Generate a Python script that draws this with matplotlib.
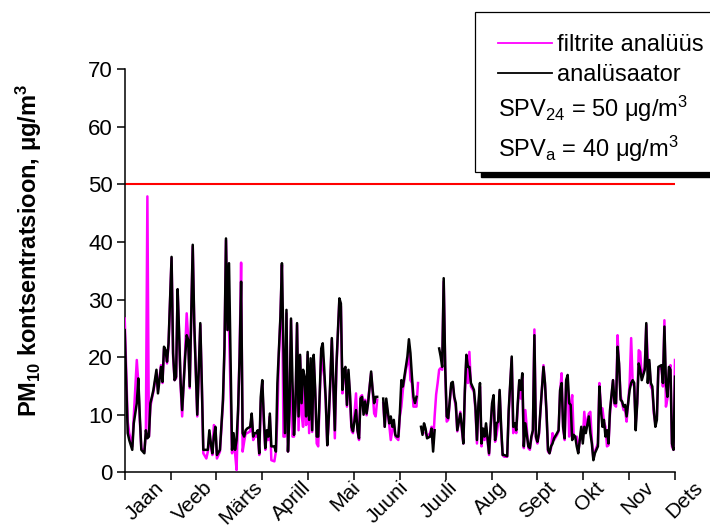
import numpy as np
import matplotlib
matplotlib.use("Agg")
import matplotlib.pyplot as plt
from matplotlib.patches import Rectangle
from matplotlib.lines import Line2D

plt.rcParams['font.family'] = ['Liberation Sans', 'DejaVu Sans']
plt.rcParams['mathtext.fontset'] = 'custom'
plt.rcParams['mathtext.rm'] = 'Liberation Sans'
plt.rcParams['mathtext.it'] = 'Liberation Sans:italic'
plt.rcParams['mathtext.bf'] = 'Liberation Sans:bold'
plt.rcParams['mathtext.default'] = 'regular'

nan = np.nan

# Day of year for each measurement
days = [
    1, 3, 4, 6, 7, 9, 10, 11, 12, 14, 15, 16, 17, 18, 19, 20, 22, 23, 25, 26,
    27, 28, 29, 30, 32, 33, 34, 35, 36, 37, 38, 39, 41, 42, 43, 44, 46, 47, 49, 51,
    52, 53, 55, 56, 57, 58, 59, 60, 61, 62, 64, 66, 67, 68, 69, 70, 72, 73,
    74, 75, 76, 77, 78, 79, 80, 81, 82,
    84, 85, 86, 87, 88, 89, 90, 91, 92, 93, 94, 95, 96, 97, 98,
    100, 101, 102, 103, 104, 105, 106, 107, 108, 109, 110, 111, 112, 113, 114, 115,
    116, 117, 118, 119, 120, 121, 122, 123, 124, 125, 126, 127, 128, 129,
    131, 132, 133, 134, 135, 136, 137, 138, 139, 140, 141, 143, 144, 145, 146,
    147, 148, 149, 150, 151, 152, 154, 155, 156, 157, 158, 159, 160, 161, 162,
    164, 165, 166, 167, 168, 169, 170, 172, 173, 174,
    176, 177, 178, 179, 180, 181, 182, 183, 184, 185,
    187, 188, 189, 190, 191, 192, 193, 194, 195, 196, 197, 198, 199, 200, 201,
    203, 204, 205, 206, 207, 208, 209, 210, 211, 212, 213, 214, 215,
    217, 218, 219, 220, 221,
    223, 224, 225, 226, 227, 228, 229, 230, 232, 233, 234, 235, 236, 237, 238, 239, 240,
    242, 243, 244, 245, 246, 247, 248, 249, 250, 251, 252,
    254, 255, 256, 257, 258, 259, 260, 261, 262, 263, 264, 265, 266,
    268, 269, 270, 271, 272, 273, 274, 275, 276,
    278, 279, 280, 281, 282, 283, 284, 285,
    287, 288, 289, 290, 291, 292, 293, 294, 295,
    296, 297, 298, 299, 300, 301, 303, 304, 305, 306, 307, 308, 309, 310, 311, 312,
    314, 315, 316, 317, 318, 319, 320, 321, 322,
    324, 325, 326, 327, 328, 329, 330, 331, 332, 333,
    335, 336, 337, 338, 339, 340, 341, 342, 343,
    345, 346, 347, 348, 349, 350, 351, 352, 353, 354,
    356, 357, 358, 359, 360, 361, 362, 363, 364, 365,
]

# PM10 from the continuous analyser, ug/m3
analyzer = [
    24.7, 6.8, 5.6, 3.9, 8.5, 12.0, 16.3, 9.7, 3.9, 3.3, 7.3, 5.9, 6.2, 12.0, 13.1, 14.3, 17.8, 13.7, 18.3, 15.7,
    21.8, 21.2, 19.2, 22.4, 37.4, 20.7, 16.0, 16.6, 31.8, 24.1, 15.5, 10.8, 20.1, 23.8, 23.0, 14.9, 39.5, 25.9, 10.0, 25.9,
    15.5, 3.9, 3.9, 3.9, 7.3, 5.0, 3.3, 6.2, 7.9, 3.0, 3.9, 12.6, 21.8, 40.6, 24.7, 36.3, 3.9, 6.8,
    3.9, 5.6, 10.8, 20.1, 33.1, 6.8, 6.2, 7.3, 7.6,
    7.9, 10.2, 6.2, 6.8, 6.8, 7.3, 3.3, 13.1, 16.0, 9.7, 4.2, 7.3, 6.2, 10.2, 4.5,
    4.5, 3.6, 15.5, 21.2, 27.0, 36.3, 21.2, 6.8, 28.2, 3.6, 10.8, 26.7, 15.5, 6.5, 12.0, 25.9,
    9.7, 20.4, 12.0, 17.8, 16.6, 9.7, 20.9, 9.1, 19.8, 7.3, 20.4, 14.3, 6.2, 6.2,
    21.5, 22.4, 17.8, 12.6, 4.7, 9.7, 16.0, 23.3, 15.5, 7.3, 18.3, 30.2, 29.3, 14.3, 17.8,
    18.3, 11.7, 17.8, 13.7, 7.9, 7.1, 10.8, 7.3, 5.9, 12.8, 13.1, 10.0, 12.3, 10.2, 12.0,
    17.5, 14.3, 12.0, 13.1, 13.1, nan, nan, 12.8, 7.9, 12.8,
    8.5, 9.7, 7.9, 9.1, 6.5, 6.2, 6.2, 10.2, 16.0, 14.9,
    18.3, 20.1, 23.1, 20.7, 16.6, 13.1, 12.0, 13.1, nan, nan, 7.9, 6.5, 8.5, 7.6, 5.9,
    6.2, 7.6, 3.6, 7.3, nan, nan, 21.5, 20.1, 18.3, 33.7, 18.3, 9.7, 9.4,
    15.5, 15.7, 13.1, 12.0, 7.3,
    10.2, 7.9, 5.0, 14.3, 20.4, 18.3, 18.3, 15.5, 14.3, 11.4, 5.6, 12.0, 15.5, 5.0, 7.6, 6.2, 8.5,
    3.3, 7.9, 12.0, 13.4, 5.6, 8.5, 8.8, 14.3, 7.9, 3.0, 3.0,
    2.8, 10.8, 15.5, 20.1, 7.9, 8.5, 7.3, 12.0, 16.0, 14.3, 17.2, 4.5, 8.5,
    4.5, 4.2, 6.2, 7.3, 23.8, 6.2, 5.3, 6.8, 10.8,
    18.3, 15.5, 10.5, 3.9, 3.3, 4.5, 5.0, 5.9,
    6.8, 7.3, 14.3, 15.5, 7.9, 5.9, 16.0, 16.9, 12.0,
    11.7, 5.6, 6.5, 6.2, 4.5, 3.3, 7.9, 5.0, 7.9, 6.8, 8.2, 9.7, 6.8, 5.0, 2.1, 3.3,
    4.5, 14.9, 10.8, 7.9, 9.1, 6.2, 7.3, 5.0, 10.8,
    16.0, 12.0, 12.0, 21.8, 18.9, 12.6, 12.3, 11.4, 11.7, 9.7,
    14.3, 15.5, 16.0, 15.5, 7.3, 12.0, 18.9, 17.8, 16.0,
    17.8, 25.9, 15.5, 19.5, 15.5, 14.9, 10.8, 7.9, 9.1, 18.3,
    18.6, 15.5, 25.3, 15.5, 13.1, 18.3, 17.8, 5.0, 3.9, 16.6,
]

# PM10 from gravimetric filter analysis, ug/m3
filters = [
    26.7, 8.8, 6.8, 4.5, 9.7, 19.5, 15.5, 9.1, 4.2, 3.6, 6.8, 47.9, 6.2, 11.4, 12.8, 14.0, 17.2, 14.3, 18.6, 15.5,
    21.5, 21.2, 18.9, 22.1, 37.2, 20.1, 16.0, 16.3, 31.7, 23.6, 14.9, 9.7, 21.2, 27.6, 23.3, 14.6, 39.2, 25.6, 9.7, 25.6,
    15.2, 3.3, 2.4, 3.6, 6.5, 4.5, 3.0, 8.2, 7.6, 2.4, 3.6, 12.0, 21.2, 40.3, 24.7, 25.0, 3.3, 6.5,
    3.3, 0.4, 10.2, 20.7, 36.4, 3.6, 5.3, 6.8, 6.8,
    7.1, 9.7, 5.6, 6.2, 6.2, 7.1, 3.0, 12.0, 15.5, 8.5, 3.9, 6.8, 5.6, 9.7, 2.1,
    1.9, 3.6, 9.4, 20.7, 26.7, 36.0, 6.2, 6.2, 27.6, 3.6, 10.2, 26.4, 6.2, 6.2, 11.4, 25.6,
    7.3, 20.1, 10.0, 7.9, 15.5, 8.2, 20.4, 6.8, 18.9, 7.0, 20.1, 13.7, 5.0, 4.5,
    21.2, 18.3, 16.6, 12.0, 4.7, 9.1, 15.5, 23.0, 14.9, 5.9, 17.8, 29.9, 28.8, 13.7, 17.2,
    17.8, 11.4, 17.2, 13.1, 7.3, 6.8, 13.7, 7.1, 5.6, 13.1, 13.4, 11.4, 12.6, 9.9, 12.6,
    17.2, 14.0, 10.2, 9.7, 12.6, nan, nan, 12.0, 7.9, 12.0,
    8.2, 5.6, 7.3, 8.5, 6.2, 5.9, 5.6, 9.7, 11.4, 14.3,
    17.8, 18.9, 21.2, 16.0, 15.5, 11.4, 11.4, 11.4, 15.5, nan, nan, nan, nan, 6.8, 6.2,
    6.8, 7.9, 5.0, 9.7, 13.5, 15.5, 17.8, 18.1, 17.8, 33.1, 17.8, 8.8, 9.1,
    15.2, 15.5, 12.8, 11.4, 7.1,
    10.5, 7.3, 5.0, 13.7, 19.8, 15.5, 20.9, 14.9, 14.0, 10.8, 5.0, 11.4, 14.9, 4.5, 7.1, 5.6, 7.9,
    3.0, 7.3, 11.4, 13.1, 5.3, 6.5, 8.5, 14.0, 7.3, 3.0, 2.7,
    2.7, 10.2, 14.9, 19.8, 6.8, 7.9, 6.8, 11.4, 15.5, 12.8, 16.6, 4.2, 10.8,
    4.2, 3.9, 5.9, 7.1, 24.8, 5.9, 5.0, 6.5, 10.5,
    18.6, 15.2, 10.2, 3.6, 3.3, 4.2, 6.8, 5.6,
    6.5, 7.1, 14.0, 17.2, 7.6, 5.6, 15.7, 16.6, 6.2,
    11.4, 13.4, 6.2, 5.9, 6.2, 3.6, 7.3, 5.6, 10.5, 7.3, 9.1, 10.2, 10.5, 5.6, 2.4, 3.6,
    5.0, 15.5, 11.1, 11.1, 8.8, 7.9, 4.5, 4.7, 10.2,
    16.0, 11.7, 11.4, 23.8, 18.3, 13.4, 12.0, 10.8, 10.8, 8.8,
    15.5, 23.3, 15.5, 14.9, 8.5, 12.0, 21.2, 20.9, 16.6,
    18.3, 25.6, 19.5, 18.9, 14.9, 14.3, 10.2, 8.5, 9.7, 17.8,
    18.3, 14.9, 26.4, 11.4, 12.8, 17.8, 18.6, 4.5, 3.9, 19.5,
]

months = ['Jaan', 'Veeb', 'Märts', 'Aprill', 'Mai', 'Juuni',
          'Juuli', 'Aug', 'Sept', 'Okt', 'Nov', 'Dets']
limit_24h = 50
y_ticks = [0, 10, 20, 30, 40, 50, 60, 70]

W, H = 710, 532
fig = plt.figure(figsize=(W / 100, H / 100), dpi=100)


def px(x, y):
    """Pixel position (from top-left) to figure fraction."""
    return x / W, 1 - y / H


ax = fig.add_axes([124.7 / W, 1 - 472.3 / H, (675 - 124.7) / W, (472.3 - 69.1) / H])

ax.plot(days, filters, color='#FF00FF', lw=1.8, zorder=3)
ax.plot(days, analyzer, color='black', lw=1.8, zorder=4)
ax.axhline(limit_24h, color='#FF0000', lw=1.5, zorder=2)

ax.set_xlim(1, 365)
ax.set_ylim(0, 70)
ax.set_yticks(y_ticks)
ax.set_yticklabels([str(v) for v in y_ticks])

# month boundaries as ticks, month names as free rotated labels
edges = np.linspace(1, 365, len(months) + 1)
ax.set_xticks(edges)
ax.set_xticklabels([])
label_x = np.linspace(0.054, 0.054 + 11 * 0.0889, len(months))
for xf, name in zip(label_x, months):
    ax.text(xf, -0.014, name, transform=ax.transAxes, rotation=45,
            rotation_mode='anchor', ha='right', va='top', fontsize=15, clip_on=False)

ax.tick_params(axis='x', which='major', direction='out', length=5.5, width=1.1)
ax.tick_params(axis='y', direction='out', length=5.5, width=1.1, labelsize=16, pad=3)

for side in ('top', 'right'):
    ax.spines[side].set_visible(False)
for side in ('left', 'bottom'):
    ax.spines[side].set_linewidth(1.1)

fig.text(*px(29, 250), 'PM$_{10}$ kontsentratsioon, μg/m$^3$', rotation=90,
         ha='center', va='center', fontsize=17, fontweight='bold')

# Legend box with drop shadow
x0, y0, x1, y1 = 475, 12, 720, 172
fx0, fy1 = px(x0, y1)
bw, bh = (x1 - x0) / W, (y1 - y0) / H
fig.add_artist(Rectangle((fx0 + 6 / W, fy1 - 5 / H), bw, bh, transform=fig.transFigure,
                         facecolor='black', edgecolor='black', zorder=10))
fig.add_artist(Rectangle((fx0, fy1), bw, bh, transform=fig.transFigure,
                         facecolor='white', edgecolor='black', lw=0.9, zorder=11))

for yy, col, label in [(43, '#FF00FF', 'filtrite analüüs'), (73, 'black', 'analüsaator')]:
    (lx0, ly), (lx1, _) = px(498, yy), px(552, yy)
    fig.add_artist(Line2D([lx0, lx1], [ly, ly], transform=fig.transFigure,
                          color=col, lw=1.3, zorder=12))
    fig.text(*px(557, yy + 8), label, fontsize=17, ha='left', va='baseline', zorder=12)

fig.text(*px(498, 116.5), 'SPV$_{24}$ = 50 μg/m$^3$', fontsize=17,
         ha='left', va='baseline', zorder=12)
fig.text(*px(498, 156.5), 'SPV$_{a}$ = 40 μg/m$^3$', fontsize=17,
         ha='left', va='baseline', zorder=12)

fig.savefig('out.png', dpi=100)
